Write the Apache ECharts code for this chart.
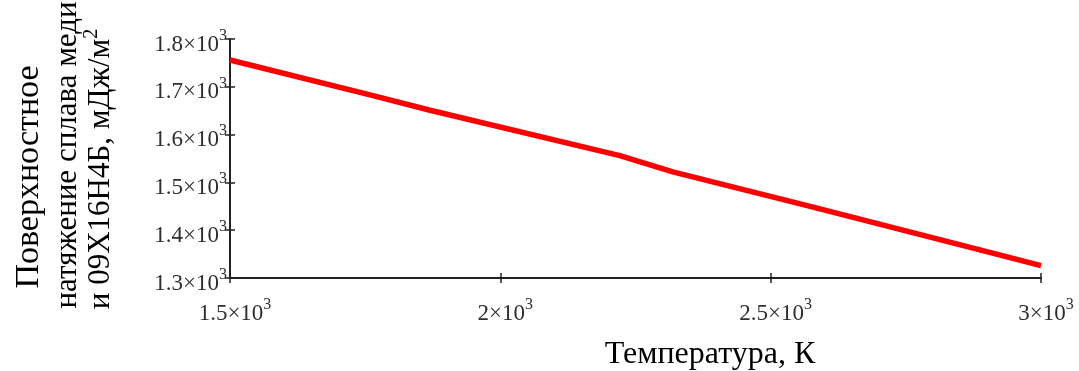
<!DOCTYPE html>
<html>
<head>
<meta charset="utf-8">
<script src="https://cdn.jsdelivr.net/npm/echarts@6/dist/echarts.min.js"></script>
<style>
html,body{margin:0;padding:0;background:#fff;}
#chart{width:1079px;height:371px;}
</style>
</head>
<body>
<div id="chart"></div>
<script>
// Data
var temperature = [1500, 1759, 1870, 2221, 2319, 2573, 2869, 3000];
var tension = [1756, 1683, 1651, 1556, 1522, 1450, 1364, 1326];
var xTickLabels = {1500: '1.5×10', 2000: '2×10', 2500: '2.5×10', 3000: '3×10'};
var yTickLabels = {1300: '1.3×10', 1400: '1.4×10', 1500: '1.5×10', 1600: '1.6×10', 1700: '1.7×10', 1800: '1.8×10'};
var tickExponent = '3';
var xTitle = 'Температура, К';
var yTitleLines = ['Поверхностное', 'натяжение сплава меди', 'и 09Х16Н4Б, мДж/м'];
var yTitleSup = '2';

var FONT = '"Liberation Serif", "DejaVu Serif", serif';
var labelColor = '#2e2e2e';
var axisColor = '#222';

var chart = echarts.init(document.getElementById('chart'), null, {renderer: 'canvas'});
var seriesData = temperature.map(function (t, i) { return [t, tension[i]]; });

function richFor(side) {
  return {
    a: {fontFamily: FONT, fontSize: 23, lineHeight: 23, color: labelColor,
        padding: side === 'x' ? [11, 0, 0, 10] : [11, 0, 0, 0]},
    s: {fontFamily: FONT, fontSize: 16, lineHeight: 16, color: labelColor, verticalAlign: 'top'}
  };
}

var option = {
  animation: false,
  backgroundColor: '#fff',
  grid: {left: 230, right: 38, top: 39, bottom: 93, containLabel: false},
  xAxis: [{
    type: 'value', min: 1500, max: 3000, interval: 500,
    axisLine: {show: true, onZero: false, lineStyle: {color: axisColor, width: 2}},
    axisTick: {show: true, inside: false, length: 5, lineStyle: {color: axisColor, width: 1.5}},
    splitLine: {show: false},
    axisLabel: {
      margin: 19,
      formatter: function (v) { return '{a|' + xTickLabels[v] + '}{s|' + tickExponent + '}'; },
      rich: richFor('x')
    }
  }, {
    type: 'value', min: 1500, max: 3000, interval: 500, position: 'bottom',
    axisLine: {show: false},
    axisTick: {show: true, inside: true, length: 5, lineStyle: {color: axisColor, width: 1.5}},
    splitLine: {show: false}, axisLabel: {show: false}
  }],
  yAxis: [{
    type: 'value', min: 1300, max: 1800, interval: 100,
    axisLine: {show: true, onZero: false, lineStyle: {color: axisColor, width: 2}},
    axisTick: {show: true, inside: false, length: 5, lineStyle: {color: axisColor, width: 1.5}},
    splitLine: {show: false},
    axisLabel: {
      margin: 3,
      formatter: function (v) { return '{a|' + yTickLabels[v] + '}{s|' + tickExponent + '}'; },
      rich: richFor('y')
    }
  }, {
    type: 'value', min: 1300, max: 1800, interval: 100, position: 'left',
    axisLine: {show: false},
    axisTick: {show: true, inside: true, length: 5, lineStyle: {color: axisColor, width: 1.5}},
    splitLine: {show: false}, axisLabel: {show: false}
  }],
  series: [{
    type: 'line',
    xAxisIndex: 0, yAxisIndex: 0,
    data: seriesData,
    showSymbol: false,
    symbol: 'none',
    lineStyle: {color: '#ff0000', width: 5.5},
    z: 3
  }],
  graphic: [
    {type: 'text', x: 710, y: 355,
     style: {text: xTitle, font: '32px ' + FONT, fill: '#000', textAlign: 'center', textVerticalAlign: 'middle'}},
    {type: 'text', x: 29, y: 177, rotation: Math.PI / 2,
     style: {text: yTitleLines[0], font: '34px ' + FONT, fill: '#000', textAlign: 'center', textVerticalAlign: 'middle'}},
    {type: 'text', x: 68, y: 155, rotation: Math.PI / 2,
     style: {text: yTitleLines[1], font: '31px ' + FONT, fill: '#000', textAlign: 'center', textVerticalAlign: 'middle'}},
    {type: 'text', x: 97, y: 169, rotation: Math.PI / 2,
     style: {
       text: '{a|' + yTitleLines[2] + '}{s|' + yTitleSup + '}',
       textAlign: 'center', textVerticalAlign: 'middle',
       rich: {
         a: {fontFamily: FONT, fontSize: 31, lineHeight: 31, fill: '#000', padding: [8, 0, 0, 0]},
         s: {fontFamily: FONT, fontSize: 20, lineHeight: 20, fill: '#000', verticalAlign: 'top'}
       }
     }}
  ]
};
chart.setOption(option);
</script>
</body>
</html>
